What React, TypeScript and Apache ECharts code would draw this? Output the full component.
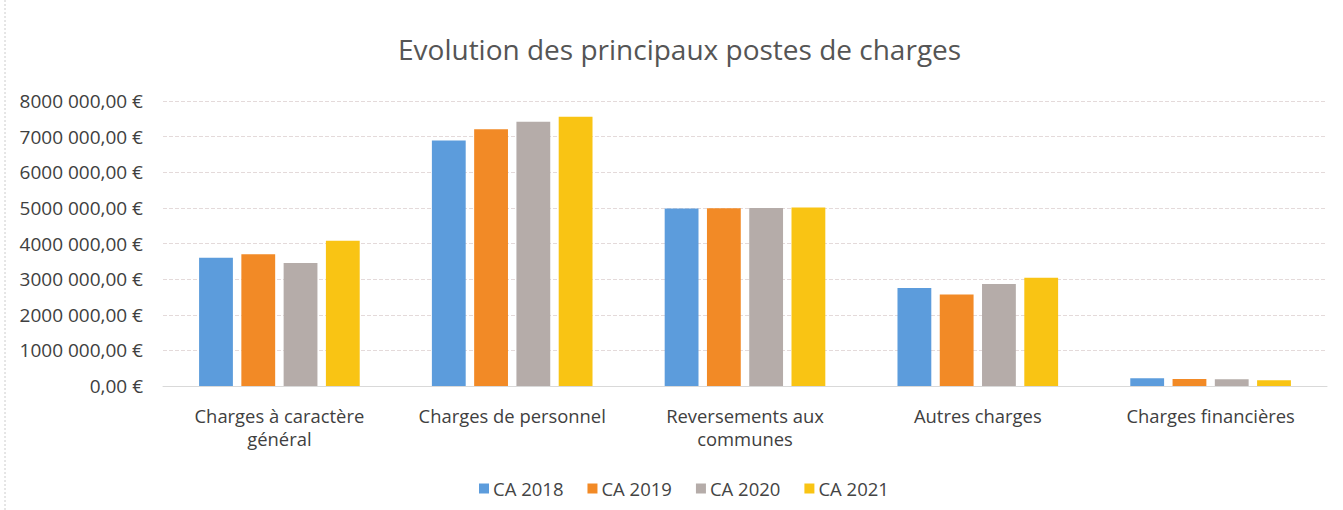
import React, { useEffect, useRef } from "react";
import * as echarts from "echarts";

const categories = [
  "Charges à caractère\ngénéral",
  "Charges de personnel",
  "Reversements aux\ncommunes",
  "Autres charges",
  "Charges financières",
];
const seriesNames = ["CA 2018", "CA 2019", "CA 2020", "CA 2021"];
const ca2018 = [3600000, 6890000, 4980000, 2750000, 220000];
const ca2019 = [3700000, 7210000, 4990000, 2570000, 200000];
const ca2020 = [3450000, 7420000, 5000000, 2860000, 190000];
const ca2021 = [4080000, 7560000, 5010000, 3040000, 160000];
const colors = ["#5C9CDC", "#F28A26", "#B5ACA9", "#F9C414"];
const tickLabels: Record<number, string> = {
  0: "0,00 €",
  1000000: "1000 000,00 €",
  2000000: "2000 000,00 €",
  3000000: "3000 000,00 €",
  4000000: "4000 000,00 €",
  5000000: "5000 000,00 €",
  6000000: "6000 000,00 €",
  7000000: "7000 000,00 €",
  8000000: "8000 000,00 €",
};

const FONT = "'Open Sans', 'Noto Sans', sans-serif";

export default function App() {
  const ref = useRef<HTMLDivElement>(null);
  useEffect(() => {
    if (!ref.current) return;
    const chart = echarts.init(ref.current, undefined, { renderer: "svg" });
    const data = [ca2018, ca2019, ca2020, ca2021];
    chart.setOption({
      animation: false,
      backgroundColor: "#ffffff",
      title: {
        text: "Evolution des principaux postes de charges",
        left: 393,
        top: 30,
        textStyle: { fontFamily: FONT, fontSize: 28, fontWeight: "normal", color: "#555555" },
      },
      legend: {
        top: 474,
        left: 474,
        itemWidth: 10,
        itemHeight: 10,
        itemGap: 24,
        icon: "rect",
        textStyle: { fontFamily: FONT, fontSize: 18.5, color: "#444444", padding: [0, 0, 0, -1] },
        data: seriesNames,
      },
      grid: { left: 163, right: 16, top: 101, bottom: 124 },
      xAxis: {
        type: "category",
        data: categories,
        axisLine: { show: true, lineStyle: { color: "#d9d9d9" } },
        axisTick: { show: false },
        axisLabel: {
          fontFamily: FONT,
          fontSize: 18.4,
          color: "#404040",
          margin: 18,
          lineHeight: 23,
          interval: 0,
        },
      },
      yAxis: {
        type: "value",
        min: 0,
        max: 8000000,
        interval: 1000000,
        axisLine: { show: false },
        axisTick: { show: false },
        splitLine: { lineStyle: { color: "#e4dada", type: "dashed", width: 1 } },
        axisLabel: {
          fontFamily: FONT,
          fontSize: 19,
          color: "#404040",
          margin: 20,
          formatter: (v: number) => tickLabels[v] ?? "",
        },
      },
      series: seriesNames.map((name, i) => ({
        name,
        type: "bar",
        data: data[i],
        itemStyle: { color: colors[i] },
        barGap: "25%",
        barCategoryGap: "31%",
      })),
      graphic: [
        {
          type: "line",
          shape: { x1: 5, y1: 0, x2: 5, y2: 510 },
          style: { stroke: "#cccccc", lineDash: [2, 2], lineWidth: 1 },
        },
      ],
    });
    return () => chart.dispose();
  }, []);
  return (
    <div
      ref={ref}
      style={{ position: "absolute", left: 0, top: 0, width: 1343, height: 510 }}
    />
  );
}
